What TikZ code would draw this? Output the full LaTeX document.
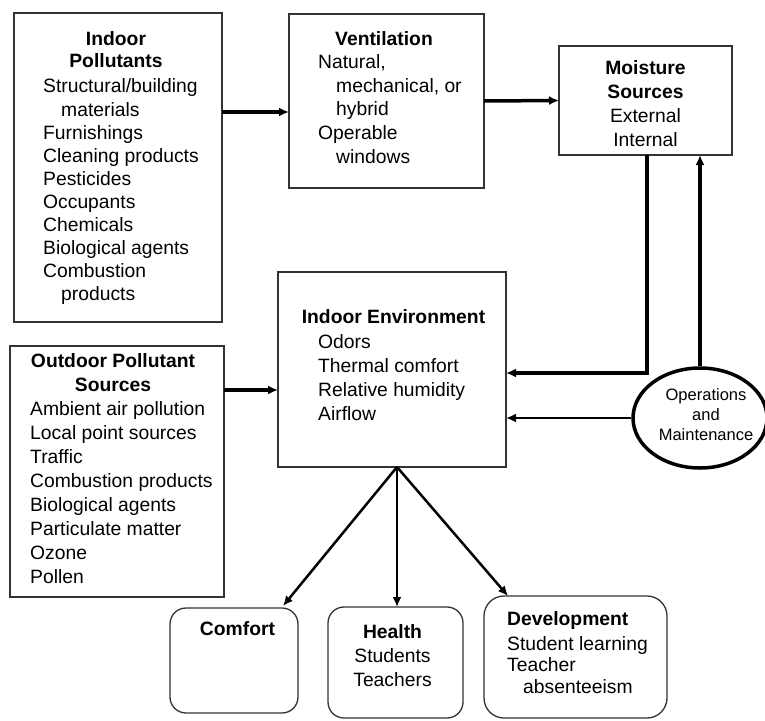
\documentclass[tikz,border=0pt]{standalone}
\usepackage{fontspec}
\setmainfont{Liberation Sans}
\usetikzlibrary{arrows.meta,shapes.geometric}
\newcommand\Lcol[1]{\begin{tabular}[t]{@{}l@{}}#1\end{tabular}}
\newcommand\Ccol[1]{\begin{tabular}[t]{@{}c@{}}#1\end{tabular}}
\newcommand\ind{\hspace*{18bp}}
\begin{document}
\begin{tikzpicture}[x=1bp,y=-1bp,
  box/.style={draw=black!80, line width=1.3bp, rectangle, inner sep=0, outer sep=0},
  rbox/.style={box, rounded corners=16bp},
  tl/.style={inner sep=0, anchor=base west, font=\fontsize{19.3bp}{#1}\selectfont},
  tc/.style={inner sep=0, anchor=base, font=\fontsize{19.3bp}{#1}\selectfont},
  thk/.style={line width=3.5bp, -{Latex[length=10bp,width=9bp]}},
  thn/.style={line width=2.5bp, -{Latex[length=10bp,width=9bp]}}]
\useasboundingbox[fill=white] (0,0) rectangle (765,721);

% boxes
\node[box, minimum width=208bp, minimum height=309bp] (ip) at (118,167.5) {};
\node[box, minimum width=195bp, minimum height=174bp] (vent) at (386.5,101) {};
\node[box, minimum width=173bp, minimum height=109bp] (moist) at (645.5,100.5) {};
\node[box, minimum width=228bp, minimum height=195bp] (ie) at (392,369.5) {};
\node[box, minimum width=214bp, minimum height=251bp] (op) at (117,471.5) {};
\node[ellipse, draw=black, line width=3.5bp, inner sep=0, minimum width=134bp, minimum height=100bp] (om) at (700,418) {};
\node[rbox, minimum width=128bp, minimum height=105bp] (comf) at (234,660.5) {};
\node[rbox, minimum width=135bp, minimum height=111bp] (hlth) at (395.5,662.5) {};
\node[rbox, rounded corners=20bp, minimum width=183bp, minimum height=122bp] (dev) at (575.5,657) {};

% texts
\node[tc=22bp] (ipH) at (116,45.7) {\Ccol{\textbf{Indoor}\\\textbf{Pollutants}}};
\node[tl=23.1bp] (ipB) at (43,93) {\Lcol{Structural/building\\\ind materials\\Furnishings\\Cleaning products\\Pesticides\\Occupants\\Chemicals\\Biological agents\\Combustion\\\ind products}};

\node[tc=23bp] (ventH) at (384,46) {\textbf{Ventilation}};
\node[tl=23.5bp] (ventB) at (318,69) {\Lcol{Natural,\\\ind mechanical, or\\\ind hybrid\\Operable\\\ind windows}};

\node[tc=23.7bp] (moistT) at (645.5,75) {\Ccol{\textbf{Moisture}\\\textbf{Sources}\\External\\Internal}};

\node[tc=23bp] (ieH) at (393.5,323) {\textbf{Indoor Environment}};
\node[tl=24.3bp] (ieB) at (318,348) {\Lcol{Odors\\Thermal comfort\\Relative humidity\\Airflow}};

\node[tc=24bp] (opH) at (113,367) {\Ccol{\textbf{Outdoor Pollutant}\\\textbf{Sources}}};
\node[tl=24bp] (opB) at (30,415) {\Lcol{Ambient air pollution\\Local point sources\\Traffic\\Combustion products\\Biological agents\\Particulate matter\\Ozone\\Pollen}};

\node[inner sep=0, anchor=base, font=\fontsize{16.5bp}{20bp}\selectfont] (omT) at (706,400) {\Ccol{Operations\\and\\Maintenance}};

\node[tc=23bp] (comfH) at (237.5,635) {\textbf{Comfort}};
\node[tc=24bp] (hlthT) at (392.5,638) {\Ccol{\textbf{Health}\\Students\\Teachers}};
\node[tl=23bp] (devH) at (507,625) {\textbf{Development}};
\node[tl=21.5bp] (devB) at (507,650) {\Lcol{Student learning\\Teacher\\\hspace*{16bp}absenteeism}};

% connectors
\coordinate (a1) at ([yshift=-11bp]vent.west);
\draw[thk] (ip.east |- a1) -- (a1);
\draw[thk] (vent.east) -- (moist.west);
\coordinate (a2) at ([yshift=-3.5bp]ie.east);
\draw[thk] ([xshift=1.5bp]moist.south) |- (a2);
\draw[thk] (om.north) -- (om.north |- moist.south);
\draw[thn] (om.west) -- (om.west -| ie.east);
\coordinate (a3) at ([yshift=-20.5bp]ie.west);
\draw[thk] (op.east |- a3) -- (a3);
\coordinate (s) at ([xshift=5bp]ie.south);
\draw[thn] (s) -- ([xshift=-15bp,yshift=2bp]comf.north east);
\draw[thn] (s) -- (s |- hlth.north);
\draw[thn] (s) -- ([xshift=24bp]dev.north west);
\end{tikzpicture}
\end{document}
